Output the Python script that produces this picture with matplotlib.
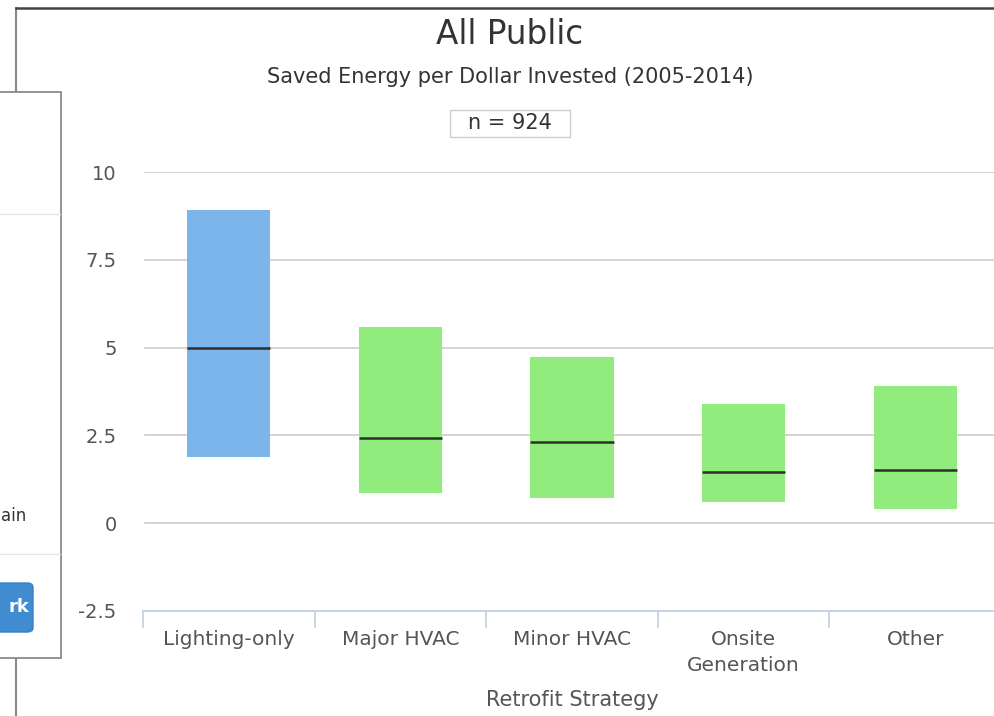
import matplotlib
matplotlib.use("Agg")
import matplotlib.pyplot as plt
from matplotlib.patches import Rectangle, FancyBboxPatch
from matplotlib.lines import Line2D

# ---- data ----
categories = ["Lighting-only", "Major HVAC", "Minor HVAC", "Onsite\nGeneration", "Other"]
low_values = [1.88, 0.85, 0.71, 0.60, 0.40]
high_values = [8.92, 5.58, 4.73, 3.39, 3.90]
median_values = [5.0, 2.42, 2.31, 1.45, 1.51]
bar_colors = ["#7CB5EC", "#90ED7D", "#90ED7D", "#90ED7D", "#90ED7D"]
y_ticks = [-2.5, 0, 2.5, 5, 7.5, 10]
y_tick_labels = ["-2.5", "0", "2.5", "5", "7.5", "10"]

W, H = 994, 716
plt.rcParams['font.family'] = ['DejaVu Sans']
fig = plt.figure(figsize=(W / 100, H / 100), dpi=100)

def fx(x):
    return x / W

def fy(y):
    return 1 - y / H

# ---- axes ----
left, right, top, bottom = 143, 1001, 172, 611
ax = fig.add_axes([fx(left), fy(bottom), (right - left) / W, (bottom - top) / H])
x = list(range(len(categories)))
heights = [h - l for h, l in zip(high_values, low_values)]
ax.bar(x, heights, bottom=low_values, width=0.485, color=bar_colors, zorder=3)
for xi, m in zip(x, median_values):
    ax.hlines(m, xi - 0.2425, xi + 0.2425, color="#2E2E2E", linewidth=1.8, zorder=4)

ax.set_xlim(-0.5, len(categories) - 0.5)
ax.set_ylim(-2.5, 10)
ax.set_yticks(y_ticks)
ax.set_yticklabels(y_tick_labels)
ax.tick_params(axis='y', length=0, pad=19, labelsize=14, labelcolor="#555555")
for v in y_ticks[1:]:
    ax.axhline(v, xmin=2 / (right - left), xmax=1, color="#C8C8C8", linewidth=1.1, zorder=1)

ax.set_xticks([i - 0.5 for i in range(len(categories) + 1)])
ax.set_xticklabels([])
ax.set_xticks(x, minor=True)
ax.set_xticklabels(categories, minor=True, fontsize=14.5, color="#555555", linespacing=1.45)
ax.tick_params(axis='x', which='major', length=12, color="#C0D0E0", width=1.2, direction='out')
ax.tick_params(axis='x', which='minor', length=0, pad=14)

for s in ['top', 'right', 'left']:
    ax.spines[s].set_visible(False)
ax.spines['bottom'].set_color("#C0D0E0")
ax.spines['bottom'].set_linewidth(1.3)

# ---- titles ----
fig.text(fx(510), fy(35), "All Public", ha='center', va='center', fontsize=23.5, color="#333333")
fig.text(fx(510), fy(77), "Saved Energy per Dollar Invested (2005-2014)", ha='center', va='center',
         fontsize=15, color="#333333")
fig.patches.append(Rectangle((fx(450), fy(137)), 120 / W, 27 / H, transform=fig.transFigure,
                             facecolor="white", edgecolor="#CCCCCC", linewidth=1))
fig.text(fx(510), fy(123), "n = 924", ha='center', va='center', fontsize=15, color="#333333")
fig.text(fx(572), fy(700), "Retrofit Strategy", ha='center', va='center', fontsize=15, color="#555555")

# ---- screenshot frame decorations ----
fig.add_artist(Line2D([fx(16), fx(16)], [fy(8), fy(716)], transform=fig.transFigure,
                      color="#888888", linewidth=1.5))
fig.add_artist(Line2D([fx(16), fx(994)], [fy(8), fy(8)], transform=fig.transFigure,
                      color="#444444", linewidth=1.8))
fig.patches.append(Rectangle((fx(-3), fy(658)), 64 / W, (658 - 92) / H, transform=fig.transFigure,
                             facecolor="white", edgecolor="#8A8A8A", linewidth=1.3, zorder=5))
fig.add_artist(Line2D([fx(0), fx(60)], [fy(214), fy(214)], transform=fig.transFigure,
                      color="#E6E6E6", linewidth=1, zorder=6))
fig.add_artist(Line2D([fx(0), fx(60)], [fy(554), fy(554)], transform=fig.transFigure,
                      color="#E6E6E6", linewidth=1, zorder=6))
fig.text(fx(1), fy(516), "ain", ha='left', va='center', fontsize=12, color="#333333", zorder=7)
fig.patches.append(FancyBboxPatch((fx(-10), fy(632)), 43 / W, 49 / H, transform=fig.transFigure,
                                  boxstyle="round,pad=0,rounding_size=0.006",
                                  facecolor="#3F8DD0", edgecolor="#3A80C0", linewidth=1, zorder=7))
fig.text(fx(29), fy(607), "rk", ha='right', va='center', fontsize=13, color="white",
         fontweight='bold', zorder=8)

fig.savefig("out.png", dpi=100)
